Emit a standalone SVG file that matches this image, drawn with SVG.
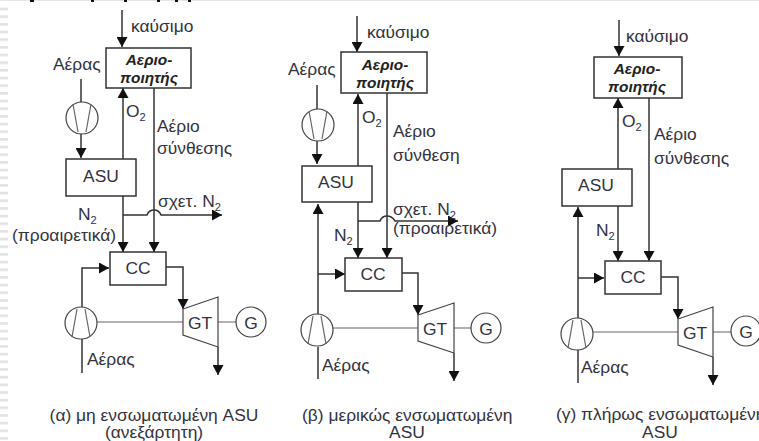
<svg xmlns="http://www.w3.org/2000/svg" width="759" height="441" viewBox="0 0 759 441">
<style>
text{font-family:"Liberation Sans",Arial,sans-serif;font-size:17.4px;fill:#33333d}
.b{font-weight:bold;font-style:italic;font-size:15.4px;fill:#222;text-anchor:middle}
.m{text-anchor:middle}
.s{font-size:11px}
.box{fill:#fff;stroke:#333;stroke-width:1.5}
.ln{fill:none;stroke:#333;stroke-width:1.5}
.th{fill:none;stroke:#666;stroke-width:1.2}
.c{fill:#fff;stroke:#444;stroke-width:1.2}
.k{fill:#111}
</style>
<defs>
<marker id="a" markerUnits="userSpaceOnUse" markerWidth="11" markerHeight="11" refX="10" refY="5.5" orient="auto"><path d="M0 0L10 5.5L0 11Z" fill="#111"/></marker>
<pattern id="h" width="8" height="7.67" patternUnits="userSpaceOnUse"><rect width="8" height="2.6" fill="#e2e2e2"/></pattern>
</defs>
<rect width="759" height="441" fill="#fff"/>
<rect x="0" y="6" width="8" height="435" fill="url(#h)"/>
<rect x="0" y="0" width="759" height="1" fill="#e6e6e6"/>
<g id="top-edge"><rect class="k" x="30" y="0" width="4" height="2"/><rect class="k" x="91" y="0" width="3" height="2"/><rect class="k" x="124" y="0" width="3" height="2"/><rect class="k" x="157" y="0" width="3" height="2"/><rect class="k" x="175" y="0" width="3" height="2"/><rect class="k" x="188" y="0" width="3" height="2"/></g>
<g id="connectors">
<path class="ln" marker-end="url(#a)" d="M122 10V47"/>
<path class="ln" d="M81 79V103"/>
<path class="ln" marker-end="url(#a)" d="M81 134V158"/>
<path class="ln" marker-end="url(#a)" d="M123 160V88"/>
<path class="ln" marker-end="url(#a)" d="M154 87V252"/>
<path class="ln" marker-end="url(#a)" d="M123 196V252"/>
<path class="ln" marker-end="url(#a)" d="M123 215H147Q149 210 154 210Q159 210 161 215H222"/>
<path class="ln" marker-end="url(#a)" d="M82 307V268H109"/>
<path class="ln" d="M82 339V373"/>
<path class="ln" marker-end="url(#a)" d="M166 267H183V309"/>
<path class="th" d="M97 322H183M218 322H236"/>
<path class="ln" marker-end="url(#a)" d="M218 347V375"/>

<path class="ln" marker-end="url(#a)" d="M357 16V52"/>
<path class="ln" d="M317 85V110"/>
<path class="ln" marker-end="url(#a)" d="M317 141V164"/>
<path class="ln" marker-end="url(#a)" d="M358 166V94"/>
<path class="ln" marker-end="url(#a)" d="M387 93V258"/>
<path class="ln" marker-end="url(#a)" d="M358 202V258"/>
<path class="ln" marker-end="url(#a)" d="M358 221H380Q382 216 387 216Q392 216 395 221H458"/>
<path class="ln" marker-end="url(#a)" d="M318 315V204"/>
<path class="ln" marker-end="url(#a)" d="M318 274H345"/>
<path class="ln" d="M318 347V379"/>
<path class="ln" marker-end="url(#a)" d="M402 273H418V315"/>
<path class="th" d="M333 328H418M454 328H471"/>
<path class="ln" marker-end="url(#a)" d="M454 353V381"/>

<path class="ln" marker-end="url(#a)" d="M619 20V56"/>
<path class="ln" marker-end="url(#a)" d="M618 169V98"/>
<path class="ln" marker-end="url(#a)" d="M649 97V261"/>
<path class="ln" marker-end="url(#a)" d="M618 206V261"/>
<path class="ln" marker-end="url(#a)" d="M578 318V207"/>
<path class="ln" marker-end="url(#a)" d="M578 278H604"/>
<path class="ln" d="M578 350V383"/>
<path class="ln" marker-end="url(#a)" d="M661 277H678V319"/>
<path class="th" d="M593 332H678M713 332H731"/>
<path class="ln" marker-end="url(#a)" d="M713 357V385"/>
</g>

<g id="a-gasifier"><rect class="box" x="106" y="48" width="85" height="40"/><text class="b" x="149" y="65">Αεριο-</text><text class="b" x="149" y="83">ποιητής</text></g>
<g id="a-comp1"><circle class="c" cx="82" cy="118" r="16"/><path class="th" d="M73 104L78 132M91 104L86 132"/></g>
<g id="a-asu"><rect class="box" x="66" y="159" width="70" height="37"/><text class="m" x="101" y="182">ASU</text></g>
<g id="a-cc"><rect class="box" x="110" y="252" width="56" height="33"/><text class="m" x="138" y="274">CC</text></g>
<g id="a-comp2"><circle class="c" cx="81" cy="323" r="16"/><path class="th" d="M72 337L77 309M90 337L85 309"/></g>
<g id="a-gt"><path class="c" d="M183 309L218 297V347L183 335Z"/><text class="m" x="200" y="329">GT</text></g>
<g id="a-g"><circle class="c" cx="251" cy="322" r="15"/><text class="m" x="251" y="329">G</text></g>

<g id="b-gasifier"><rect class="box" x="341" y="52" width="86" height="41"/><text class="b" x="385" y="70">Αεριο-</text><text class="b" x="385" y="88">ποιητής</text></g>
<g id="b-comp1"><circle class="c" cx="318" cy="125" r="16"/><path class="th" d="M309 111L314 139M327 111L322 139"/></g>
<g id="b-asu"><rect class="box" x="302" y="166" width="70" height="36"/><text class="m" x="336" y="188">ASU</text></g>
<g id="b-cc"><rect class="box" x="345" y="258" width="57" height="33"/><text class="m" x="373" y="280">CC</text></g>
<g id="b-comp2"><circle class="c" cx="317" cy="330" r="16"/><path class="th" d="M308 344L313 316M326 344L321 316"/></g>
<g id="b-gt"><path class="c" d="M418 315L454 303V353L418 341Z"/><text class="m" x="435" y="335">GT</text></g>
<g id="b-g"><circle class="c" cx="486" cy="328" r="15"/><text class="m" x="486" y="335">G</text></g>

<g id="c-gasifier"><rect class="box" x="594" y="57" width="88" height="41"/><text class="b" x="637" y="74">Αεριο-</text><text class="b" x="637" y="92">ποιητής</text></g>
<g id="c-asu"><rect class="box" x="562" y="169" width="70" height="37"/><text class="m" x="596" y="191">ASU</text></g>
<g id="c-cc"><rect class="box" x="605" y="261" width="56" height="33"/><text class="m" x="633" y="283">CC</text></g>
<g id="c-comp"><circle class="c" cx="577" cy="334" r="16"/><path class="th" d="M568 348L573 320M586 348L581 320"/></g>
<g id="c-gt"><path class="c" d="M678 319L713 307V357L678 345Z"/><text class="m" x="695" y="339">GT</text></g>
<g id="c-g"><circle class="c" cx="746" cy="331" r="15"/><text class="m" x="746" y="338">G</text></g>

<g id="labels">
<text x="131" y="32">καύσιμο</text>
<text x="53" y="70">Αέρας</text>
<text x="126" y="117">O<tspan class="s" dy="4">2</tspan></text>
<text x="157" y="132">Αέριο</text>
<text x="157" y="154">σύνθεσης</text>
<text x="158" y="207">σχετ. N<tspan class="s" dy="4">2</tspan></text>
<text x="78" y="220">N<tspan class="s" dy="4">2</tspan></text>
<text x="12" y="241">(προαιρετικά)</text>
<text x="87" y="365">Αέρας</text>
<text class="m" x="154" y="421">(α) μη ενσωματωμένη ASU</text>
<text class="m" x="154" y="438">(ανεξάρτητη)</text>

<text x="367" y="38">καύσιμο</text>
<text x="288" y="75">Αέρας</text>
<text x="362" y="123">O<tspan class="s" dy="4">2</tspan></text>
<text x="393" y="137">Αέριο</text>
<text x="393" y="161">σύνθεση</text>
<text x="393" y="215">σχετ. N<tspan class="s" dy="4">2</tspan></text>
<text x="334" y="241">N<tspan class="s" dy="4">2</tspan></text>
<text x="393" y="234">(προαιρετικά)</text>
<text x="322" y="371">Αέρας</text>
<text x="302" y="421">(β) μερικώς ενσωματωμένη</text>
<text class="m" x="407" y="438">ASU</text>

<text x="626" y="42">καύσιμο</text>
<text x="622" y="127">O<tspan class="s" dy="4">2</tspan></text>
<text x="654" y="140">Αέριο</text>
<text x="654" y="164">σύνθεσης</text>
<text x="596" y="236">N<tspan class="s" dy="4">2</tspan></text>
<text x="581" y="373">Αέρας</text>
<text x="556" y="420">(γ) πλήρως ενσωματωμένη</text>
<text class="m" x="660" y="438">ASU</text>
</g>
</svg>
